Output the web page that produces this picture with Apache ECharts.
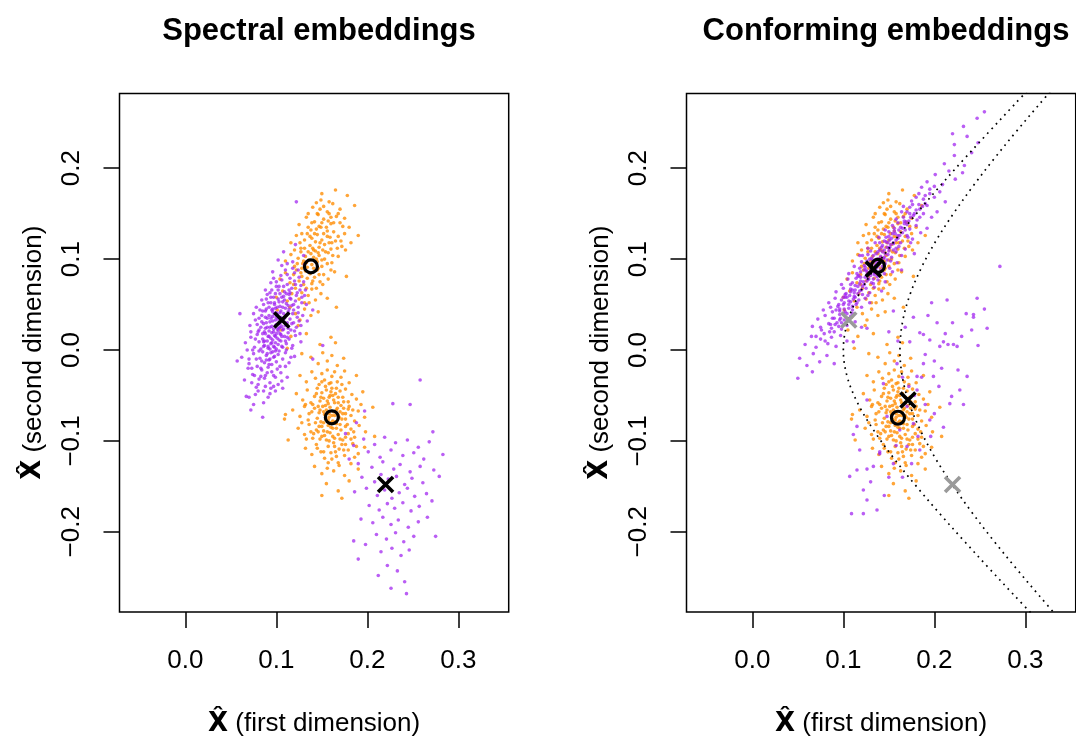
<!DOCTYPE html>
<html><head><meta charset="utf-8">
<script src="https://cdn.jsdelivr.net/npm/echarts@6/dist/echarts.min.js"></script>
<style>html,body{margin:0;padding:0;background:#fff}#c{width:1076px;height:738px}</style>
</head><body><div id="c"></div>
<script>
const titles = ['Spectral embeddings', 'Conforming embeddings'];
const xAxisTitle = '(first dimension)';
const yAxisTitle = '(second dimension)';
const xTicks = [0, 0.1, 0.2, 0.3];
const yTicks = [-0.2, -0.1, 0, 0.1, 0.2];

// left panel: purple group, upper cluster
const leftPurpleUpper = [
[.072,-.066],[.085,-.074],
[.070,-.052],[.080,-.045],[.086,-.058],[.093,-.048],[.078,-.041],
[.065,-.033],[.074,-.027],[.080,-.038],[.084,-.022],[.087,-.031],[.090,-.025],[.093,-.036],[.097,-.028],[.101,-.021],[.083,-.029],[.106,-.034],[.088,-.040],
[.062,-.008],[.070,-.015],[.075,-.004],[.079,-.018],[.082,-.009],[.085,-.002],[.087,-.014],[.089,-.006],[.091,-.019],[.092,-.011],[.094,-.003],[.095,-.016],[.097,-.008],[.099,-.001],[.100,-.013],[.102,-.005],[.104,-.018],[.107,-.010],[.110,-.003],[.114,-.014],[.120,-.007],[.084,-.012],
[.066,.008],[.072,.014],[.076,.003],[.079,.017],[.081,.009],[.083,.001],[.085,.012],[.087,.005],[.088,.018],[.090,.010],[.091,.002],[.092,.015],[.094,.007],[.095,.019],[.096,.011],[.097,.004],[.098,.016],[.099,.008],[.100,.001],[.101,.013],[.102,.006],[.104,.018],[.105,.010],[.107,.003],[.109,.015],[.111,.007],[.114,.012],[.117,.002],[.121,.016],[.127,.009],
[.071,.027],[.077,.033],[.081,.022],[.084,.038],[.086,.029],[.088,.024],[.090,.035],[.092,.021],[.093,.031],[.095,.026],[.096,.037],[.097,.023],[.099,.033],[.100,.028],[.101,.039],[.102,.021],[.103,.030],[.104,.025],[.105,.036],[.107,.022],[.108,.032],[.110,.027],[.111,.038],[.113,.024],[.115,.034],[.117,.029],[.120,.021],[.123,.036],[.127,.027],[.134,.032],
[.078,.047],[.084,.055],[.088,.043],[.091,.052],[.094,.058],[.096,.045],[.098,.050],[.100,.041],[.102,.056],[.104,.048],[.105,.043],[.107,.053],[.108,.059],[.110,.046],[.111,.051],[.113,.042],[.115,.057],[.117,.049],[.119,.044],[.121,.054],[.124,.047],[.128,.058],[.133,.050],[.140,.044],
[.088,.066],[.094,.074],[.099,.062],[.103,.070],[.106,.077],[.109,.064],[.112,.072],[.114,.061],[.117,.068],[.120,.076],[.123,.063],[.127,.071],[.132,.066],[.097,.079],
[.096,.086],[.106,.093],[.112,.083],[.118,.097],[.124,.088],[.131,.094],[.102,.099],
[.108,.108],[.121,.116],[.130,.104],
[.057,-.012],[.067,-.051],[.122,.163],[.151,.005],[.060,.040],[.140,-.010],[.075,-.060],
[.091,.004],[.094,.013],[.097,.020],[.099,.027],[.102,.034],[.104,.041],[.093,.025],[.096,.032],[.100,.018],[.103,.011],[.106,.026],[.108,.040],[.089,.030],[.092,.038],[.095,.044],[.098,.003],[.101,.023],[.105,.017],[.109,.035],[.087,.020],[.090,-.004],[.093,-.010],[.096,-.002],[.086,.009],[.112,.030],[.107,.047],[.098,.052],[.114,.045],
[.083,-.020],[.088,-.028],[.092,-.016],[.095,-.024],[.099,-.030],[.078,-.010],[.081,-.001],[.086,.004],[.089,-.011],[.093,.001],[.098,-.007],[.103,-.001],[.106,.004],[.110,.010],[.113,.019],[.108,.023],[.104,.029],[.100,.036],[.096,.042],[.092,.047],[.088,.036],[.084,.031],[.080,.020],[.077,.012],[.074,.000],[.082,.044],[.086,.050],[.090,.061],[.095,.066],[.100,.070],[.104,.062],[.109,.055],[.115,.063],[.118,.040],[.116,.022],[.112,.014],[.119,.030],[.124,.041],[.126,.018],[.129,.038],[.069,-.020],[.073,-.036],[.077,-.049],[.094,-.042],[.099,-.045],[.105,-.025],[.110,-.018],[.089,.045],[.085,.018],[.111,.000],
[.100,.075],[.105,.082],[.110,.088],[.115,.079],[.120,.085],[.125,.080],[.112,.095],[.118,.090],[.108,.070],[.114,.066],[.121,.072],[.126,.066],[.130,.075],[.116,.056],[.122,.060],[.128,.052],[.131,.060],[.093,.063],[.097,.058],[.102,.066],[.106,.058],[.111,.062],[.103,.053],[.099,.046],[.094,.052],[.089,.056],[.085,.043],[.081,.035],[.079,.028],[.075,.040],[.072,.020],[.068,.000],[.070,-.010],[.073,-.020],[.076,-.028],[.081,-.032],[.086,-.045],[.091,-.052],[.097,-.040],[.102,-.038],[.107,-.042],[.112,-.030],[.116,-.008],[.118,.005],[.122,.025],[.125,.032],[.119,.050],[.113,.049],[.107,.034],[.103,.024],[.099,.015],[.095,.008],[.091,.015],[.087,.010],[.083,.025],[.090,.025],[.094,.035],[.098,.040],[.101,.047],[.106,.015]
];

// left panel: purple group, lower cluster
const leftPurpleLower = [
[.196,-.098],[.208,-.104],[.219,-.096],[.231,-.102],[.244,-.099],[.256,-.107],[.268,-.101],[.201,-.112],[.214,-.118],[.226,-.110],[.239,-.116],[.251,-.113],[.262,-.120],[.190,-.125],[.205,-.129],[.217,-.123],[.229,-.131],[.236,-.126],[.247,-.134],[.258,-.128],[.273,-.132],[.194,-.140],[.208,-.145],[.215,-.137],[.223,-.142],[.232,-.139],[.241,-.148],[.249,-.141],[.261,-.146],[.279,-.139],[.186,-.156],[.199,-.152],[.211,-.160],[.219,-.154],[.227,-.163],[.235,-.157],[.244,-.152],[.252,-.161],[.265,-.158],[.202,-.171],[.213,-.176],[.222,-.169],[.230,-.174],[.239,-.168],[.248,-.177],[.257,-.172],[.271,-.166],[.193,-.186],[.206,-.190],[.217,-.184],[.226,-.192],[.234,-.187],[.245,-.195],[.256,-.189],[.210,-.203],[.221,-.208],[.231,-.201],[.240,-.211],[.251,-.205],[.198,-.214],[.215,-.222],[.227,-.218],[.237,-.226],[.246,-.220],[.222,-.237],[.233,-.243],[.212,-.248],[.241,-.255],[.226,-.262],[.243,-.268],[.180,-.120],[.185,-.105],[.176,-.092],[.188,-.080],[.197,-.067],[.258,-.033],[.228,-.059],[.247,-.060],[.272,-.090],[.283,-.115],[.266,-.184],[.275,-.205],[.185,-.210],[.190,-.230]
];

// orange group, upper cluster (same in both panels)
const orangeUpper = [
[.150,.172],[.165,.176],
[.140,.157],[.149,.165],[.156,.152],[.162,.161],[.170,.155],
[.125,.138],[.133,.146],[.138,.132],[.142,.141],[.146,.149],[.149,.135],[.152,.144],[.156,.131],[.160,.139],[.166,.147],[.173,.136],
[.116,.118],[.122,.126],[.127,.112],[.131,.121],[.134,.128],[.137,.115],[.139,.123],[.141,.110],[.143,.119],[.145,.127],[.147,.113],[.150,.121],[.153,.116],[.156,.125],[.160,.111],[.165,.120],[.172,.114],
[.110,.098],[.116,.105],[.120,.092],[.124,.101],[.127,.108],[.129,.095],[.132,.103],[.134,.091],[.136,.099],[.138,.106],[.139,.094],[.141,.102],[.143,.109],[.145,.097],[.147,.104],[.150,.092],[.153,.100],[.157,.107],[.161,.096],[.168,.103],
[.104,.078],[.110,.085],[.115,.074],[.119,.083],[.122,.088],[.125,.076],[.128,.081],[.130,.072],[.132,.087],[.134,.079],[.137,.084],[.139,.073],[.142,.080],[.145,.088],[.148,.075],[.152,.083],[.157,.078],[.164,.086],
[.100,.058],[.107,.065],[.112,.054],[.117,.062],[.121,.068],[.125,.056],[.128,.063],[.131,.052],[.135,.060],[.139,.067],[.143,.055],[.149,.062],[.156,.057],
[.101,.044],[.109,.036],[.115,.047],[.121,.040],[.126,.033],[.131,.045],[.138,.038],[.146,.042],
[.105,.022],[.116,.015],[.124,.027],[.133,.018],
[.112,.002],[.128,-.004],
[.186,.159],[.190,.126],[.177,.081],[.166,.047],[.178,.170],
[.140,.112],[.144,.100],[.148,.118],[.135,.108],[.151,.110],[.142,.128],[.155,.135],[.146,.090],[.130,.098],[.137,.125],[.152,.128],[.158,.118],
[.128,.090],[.133,.096],[.141,.090],[.146,.107],[.150,.099],[.154,.108],[.159,.124],[.163,.130],[.147,.136],[.139,.140],[.131,.112],[.126,.118],[.123,.095],[.119,.072],[.133,.068],[.140,.076],[.147,.083],[.156,.095],[.162,.104],[.168,.125],[.170,.140],[.158,.150],[.148,.155],[.135,.135],[.127,.085],[.136,.052],[.144,.068],[.151,.072],[.160,.088],[.175,.128],
[.145,.150],[.152,.158],[.160,.146],[.168,.150],[.175,.145],[.163,.140],[.157,.142],[.150,.140],[.144,.133],[.161,.118],[.167,.112],[.171,.120],[.176,.110],[.180,.135],[.182,.118],[.158,.163],[.144,.162],[.135,.150],[.128,.128],[.120,.110]
];

// orange group, lower cluster (same in both panels)
const orangeLower = [
[.148,.006],[.160,.014],
[.138,-.008],[.146,-.015],[.151,-.003],[.156,-.012],[.161,-.006],[.167,-.017],[.174,-.009],
[.126,-.028],[.133,-.035],[.139,-.024],[.143,-.031],[.147,-.038],[.150,-.026],[.153,-.033],[.156,-.022],[.158,-.037],[.161,-.029],[.164,-.024],[.167,-.035],[.171,-.030],[.175,-.023],[.180,-.036],[.188,-.028],
[.122,-.048],[.129,-.055],[.134,-.044],[.138,-.058],[.142,-.051],[.145,-.042],[.148,-.056],[.150,-.047],[.152,-.053],[.155,-.044],[.157,-.059],[.159,-.050],[.161,-.042],[.163,-.055],[.165,-.048],[.168,-.058],[.170,-.045],[.173,-.052],[.176,-.043],[.179,-.057],[.183,-.049],[.188,-.054],[.195,-.046],[.132,-.060],
[.118,-.066],[.126,-.073],[.131,-.062],[.135,-.077],[.139,-.068],[.142,-.064],[.145,-.075],[.147,-.069],[.149,-.079],[.151,-.062],[.153,-.071],[.155,-.066],[.157,-.077],[.159,-.063],[.161,-.072],[.163,-.068],[.165,-.079],[.167,-.064],[.169,-.074],[.171,-.061],[.173,-.070],[.176,-.076],[.179,-.065],[.182,-.072],[.186,-.078],[.190,-.067],[.197,-.074],[.110,-.071],
[.124,-.086],[.131,-.093],[.136,-.082],[.140,-.097],[.144,-.088],[.147,-.084],[.150,-.095],[.152,-.089],[.155,-.099],[.157,-.083],[.159,-.091],[.162,-.086],[.164,-.097],[.166,-.081],[.168,-.093],[.171,-.088],[.173,-.099],[.176,-.084],[.179,-.092],[.182,-.087],[.186,-.096],[.191,-.083],[.198,-.090],[.138,-.090],
[.132,-.108],[.139,-.115],[.144,-.104],[.149,-.112],[.153,-.119],[.157,-.106],[.160,-.113],[.163,-.102],[.166,-.117],[.169,-.109],[.172,-.104],[.175,-.116],[.179,-.110],[.184,-.103],[.190,-.114],[.197,-.107],
[.142,-.128],[.150,-.136],[.157,-.124],[.163,-.133],[.169,-.127],[.175,-.138],[.182,-.125],[.190,-.131],
[.155,-.147],[.168,-.155],[.180,-.144],[.172,-.163],
[.109,-.076],[.113,-.099],[.206,-.063],[.208,-.095],[.150,-.160],[.165,.008],
[.154,-.061],[.158,-.070],[.162,-.078],[.166,-.066],[.160,-.085],[.152,-.080],[.170,-.082],[.164,-.058],[.156,-.090],[.168,-.072],[.148,-.066],[.174,-.064],[.158,-.052],[.162,-.095],[.146,-.090],[.176,-.096],
[.150,-.035],[.154,-.040],[.160,-.036],[.166,-.042],[.172,-.038],[.144,-.048],[.149,-.052],[.156,-.056],[.162,-.050],[.168,-.052],[.174,-.057],[.180,-.062],[.140,-.060],[.146,-.062],[.152,-.068],[.158,-.074],[.164,-.072],[.170,-.068],[.176,-.070],[.184,-.066],[.136,-.070],[.143,-.080],[.150,-.084],[.154,-.076],[.160,-.080],[.166,-.086],[.172,-.076],[.178,-.082],[.185,-.090],[.141,-.092],[.148,-.098],[.153,-.094],[.158,-.100],[.164,-.106],[.170,-.098],[.176,-.104],[.182,-.098],[.145,-.108],[.152,-.112],[.161,-.120],[.168,-.124],[.174,-.110],[.186,-.118],[.156,-.130],[.165,-.112],[.128,-.080],[.133,-.098],[.193,-.060],[.188,-.106],[.160,-.046]
];

// right panel: purple group, upper cluster
const rightPurpleUpper = [
[.050,-.031],[.066,-.024],
[.052,-.009],[.060,-.017],[.067,-.004],[.074,-.013],[.082,-.006],[.090,-.015],
[.058,.006],[.065,.015],[.070,.003],[.075,.012],[.079,.018],[.083,.007],[.087,.014],[.092,.004],[.097,.016],[.104,.010],
[.066,.026],[.072,.034],[.076,.022],[.080,.038],[.084,.029],[.087,.024],[.090,.035],[.093,.030],[.096,.039],[.098,.023],[.101,.033],[.104,.027],[.108,.037],[.113,.031],[.120,.025],
[.078,.044],[.084,.052],[.088,.042],[.091,.057],[.094,.048],[.096,.043],[.098,.055],[.100,.050],[.102,.042],[.104,.058],[.106,.046],[.108,.053],[.110,.044],[.112,.059],[.114,.050],[.117,.055],[.120,.047],[.124,.057],[.129,.052],[.086,.047],
[.092,.064],[.098,.072],[.102,.061],[.105,.078],[.108,.067],[.110,.074],[.112,.063],[.114,.079],[.116,.070],[.118,.065],[.119,.076],[.121,.061],[.123,.072],[.125,.068],[.127,.078],[.129,.063],[.131,.074],[.134,.069],[.138,.077],[.142,.065],[.100,.068],[.146,.075],
[.106,.084],[.112,.092],[.116,.081],[.120,.097],[.123,.088],[.126,.083],[.128,.095],[.130,.089],[.132,.099],[.134,.085],[.135,.093],[.137,.081],[.139,.097],[.141,.088],[.143,.092],[.145,.084],[.148,.099],[.151,.090],[.154,.086],[.159,.096],[.118,.090],[.164,.088],
[.121,.104],[.127,.112],[.131,.101],[.135,.118],[.138,.108],[.141,.103],[.143,.115],[.145,.110],[.147,.119],[.149,.105],[.151,.113],[.153,.102],[.155,.117],[.158,.108],[.161,.114],[.164,.104],[.168,.111],[.174,.118],[.130,.109],[.178,.106],
[.139,.124],[.146,.132],[.151,.121],[.154,.137],[.157,.128],[.160,.123],[.163,.135],[.165,.129],[.167,.139],[.170,.126],[.173,.133],[.176,.122],[.180,.137],[.185,.129],[.150,.130],[.192,.134],
[.158,.144],[.164,.152],[.169,.141],[.173,.157],[.177,.148],[.181,.143],[.184,.155],[.188,.150],[.192,.159],[.197,.146],[.166,.158],[.203,.152],
[.175,.164],[.183,.172],[.190,.161],[.195,.177],[.200,.168],[.206,.174],[.212,.163],[.186,.179],
[.192,.185],[.201,.193],[.209,.182],[.216,.197],[.223,.188],[.231,.195],
[.211,.205],[.222,.214],[.233,.203],[.241,.217],
[.222,.226],[.236,.235],[.248,.228],
[.232,.246],[.247,.255],[.255,.262],[.220,.238],
[.110,.066],[.117,.082],[.124,.091],[.129,.100],[.136,.106],[.142,.113],[.147,.124],[.122,.075],[.126,.086],[.133,.078],[.138,.092],[.144,.101],[.150,.109],[.107,.060],[.113,.071],[.119,.086],[.131,.095],[.140,.118],[.153,.123],[.101,.052],[.096,.045],[.127,.105],[.118,.104],[.135,.088],[.156,.131],
[.080,.010],[.090,.020],[.086,.028],[.095,.026],[.100,.040],[.092,.044],[.110,.048],[.103,.062],[.113,.058],[.120,.066],[.108,.072],[.124,.080],[.115,.084],[.129,.085],[.136,.096],[.126,.098],[.142,.098],[.133,.104],[.146,.106],[.140,.110],[.152,.116],[.145,.120],[.158,.121],[.150,.125],[.162,.126],[.156,.134],[.168,.132],[.160,.140],[.172,.142],[.166,.146],[.178,.150],[.170,.152],[.183,.160],[.176,.160],[.188,.166],[.180,.168],[.195,.172],[.100,.058],[.106,.054],[.118,.073],[.128,.078],[.134,.083],[.139,.100],[.123,.093],[.148,.113],[.155,.110],[.097,.035],[.088,.035],[.075,.025],[.070,.015],
[.085,.020],[.091,.028],[.096,.033],[.101,.045],[.106,.050],[.111,.056],[.116,.062],[.121,.070],[.126,.076],[.130,.082],[.136,.090],[.140,.096],[.145,.102],[.150,.112],[.155,.118],[.160,.126],[.165,.134],[.170,.138],[.174,.146],[.180,.154],[.095,.050],[.102,.058],[.108,.064],[.113,.066],[.119,.080],[.125,.088],[.131,.088],[.137,.100],[.143,.108],[.149,.118],[.154,.128],[.161,.132],[.167,.142],[.173,.150],[.098,.030],[.104,.040],[.110,.040],[.115,.052],[.127,.060],[.133,.073],[.139,.082],[.146,.095],[.152,.098],[.158,.112],[.163,.118],[.171,.124],[.184,.146],[.187,.158],[.190,.170],[.200,.180]
];

// right panel: purple group, lower cluster
const rightPurpleLower = [
[.173,.009],[.184,.019],[.195,.011],[.206,.004],[.215,.006],[.225,.004],[.203,.030],[.197,.052],[.214,.055],[.247,.057],[.243,.039],[.241,.022],[.226,-.022],[.219,-.051],[.199,-.029],[.188,-.015],[.181,-.044],[.195,-.077],[.184,-.110],[.170,-.106],[.155,-.125],[.140,-.114],[.133,-.128],[.115,-.132],[.107,-.139],[.122,-.154],[.126,-.165],[.109,-.180],[.137,-.176],[.115,-.084],[.126,-.055],[.144,-.037],[.159,-.015],[.170,-.062],[.162,-.088],[.177,-.081],[.148,-.073],[.181,-.029],
[.188,.017],[.210,.009],[.221,.006],[.236,-.029],[.228,-.044],[.217,-.059],[.177,.036],[.155,.043],[.126,.024],[.111,.009],[.272,.092],[.243,.036],[.258,.024],[.140,-.112],[.126,-.131],[.122,-.180],[.111,-.093],
[.190,-.005],[.200,-.012],[.208,-.020],[.212,.018],[.193,.038],[.186,-.030],[.205,-.040],[.230,.015],[.235,.040],[.220,.030],[.178,-.050],[.190,-.060],[.200,-.070],[.210,-.085],[.182,-.095],[.172,-.040],[.165,-.030],[.232,-.060],[.248,.005],[.255,.045],[.196,-.095],[.158,-.105],[.150,-.140],[.145,-.160],[.130,-.145],[.118,-.110],[.165,-.140],[.175,-.125],[.160,.010],[.168,.025],[.150,.020]
];

// cluster centres
const leftCircles = [[.138,.092],[.161,-.074]];
const leftCrosses = [[.106,.033],[.220,-.148]];
const rightCircles = [[.138,.0925],[.160,-.0745]];
const rightCrosses = [[.133,.089],[.171,-.055]];
const rightOldCrosses = [[.106,.033],[.220,-.148]];

// dotted orbit curves (right panel)
const curveInner = [
[.3162,.30],[.2879,.27],[.2600,.24],[.2326,.21],[.2059,.18],[.1803,.15],[.1562,.12],[.1345,.09],[.1166,.06],[.1044,.03],[.1000,0],
[.1044,-.03],[.1166,-.06],[.1345,-.09],[.1562,-.12],[.1803,-.15],[.2059,-.18],[.2326,-.21],[.2600,-.24],[.2879,-.27],[.3162,-.30]
];
const curveOuter = [
[.3410,.30],[.3150,.27],[.2897,.24],[.2653,.21],[.2423,.18],[.2209,.15],[.2017,.12],[.1855,.09],[.1729,.06],[.1649,.03],[.1622,0],
[.1649,-.03],[.1729,-.06],[.1855,-.09],[.2017,-.12],[.2209,-.15],[.2423,-.18],[.2653,-.21],[.2897,-.24],[.3150,-.27],[.3410,-.30]
];

const PURPLE = 'rgba(160,32,240,0.72)';
const ORANGE = 'rgba(255,140,0,0.78)';
const FONT = 'Liberation Sans';
const XPATH = 'path://M0,0L10,10M10,0L0,10';

const fmt = v => (v < 0 ? '\u2212' : '') + Math.abs(v).toFixed(1);
const gridLefts = [119.5, 686.5];
const gridCenters = [314, 881];

function xAxisFor(i) {
  return {
    gridIndex: i, type: 'value', min: -0.0723, max: 0.3553,
    axisLine: {show: false, onZero: false}, splitLine: {show: false},
    axisTick: {show: true, inside: false, length: 16, customValues: xTicks, lineStyle: {color: '#000', width: 1.5}},
    axisLabel: {customValues: xTicks, formatter: fmt, fontSize: 26, fontFamily: FONT, color: '#000', margin: 36},
    name: '{h|X\u0302} ' + xAxisTitle, nameLocation: 'middle', nameGap: 98,
    nameTextStyle: {fontSize: 26, fontFamily: FONT, color: '#000', lineHeight: 28,
      rich: {h: {fontSize: 26, fontWeight: 'bold', fontFamily: 'DejaVu Sans', color: '#000', lineHeight: 28}}}
  };
}
function yAxisFor(i) {
  return {
    gridIndex: i, type: 'value', min: -0.2882, max: 0.2822,
    axisLine: {show: false, onZero: false}, splitLine: {show: false},
    axisTick: {show: true, inside: false, length: 16, customValues: yTicks, lineStyle: {color: '#000', width: 1.5}},
    axisLabel: {customValues: yTicks, formatter: fmt, rotate: 90, fontSize: 26, fontFamily: FONT, color: '#000', margin: 35},
    name: '{h|X\u0302} ' + yAxisTitle, nameLocation: 'middle', nameGap: 72,
    nameTextStyle: {fontSize: 26, fontFamily: FONT, color: '#000', lineHeight: 28,
      rich: {h: {fontSize: 26, fontWeight: 'bold', fontFamily: 'DejaVu Sans', color: '#000', lineHeight: 28}}}
  };
}
function dots(i, data, color, z) {
  return {type: 'scatter', xAxisIndex: i, yAxisIndex: i, data: data, symbol: 'circle', symbolSize: 3.6,
    itemStyle: {color: color, opacity: 1}, silent: true, z: z};
}
function circles(i, data) {
  return {type: 'scatter', xAxisIndex: i, yAxisIndex: i, data: data, symbol: 'circle', symbolSize: 13,
    itemStyle: {color: 'rgba(0,0,0,0)', borderColor: '#000', borderWidth: 3.2, opacity: 1}, silent: true, z: 6};
}
function crosses(i, data, color, z) {
  return {type: 'scatter', xAxisIndex: i, yAxisIndex: i, data: data, symbol: XPATH, symbolSize: 15,
    itemStyle: {color: 'rgba(0,0,0,0)', borderColor: color, borderWidth: 3.6, opacity: 1}, silent: true, z: z};
}
function curve(data) {
  return {type: 'line', xAxisIndex: 1, yAxisIndex: 1, data: data, showSymbol: false, smooth: 0.35,
    lineStyle: {color: '#000', width: 1.7, type: [1.7, 4.6]}, silent: true, z: 4, clip: true};
}

const chart = echarts.init(document.getElementById('c'), null, {renderer: 'canvas'});
chart.setOption({
  animation: false,
  backgroundColor: '#fff',
  title: titles.map((t, i) => ({
    text: t, left: gridCenters[i], top: 11, textAlign: 'center',
    textStyle: {fontSize: 31, fontWeight: 'bold', fontFamily: FONT, color: '#000'}
  })),
  grid: gridLefts.map(l => ({left: l, top: 93.5, width: 389.2, height: 518.5, show: true,
    borderColor: '#000', borderWidth: 1.5, backgroundColor: 'rgba(0,0,0,0)', containLabel: false, outerBoundsMode: 'none'})),
  xAxis: [xAxisFor(0), xAxisFor(1)],
  yAxis: [yAxisFor(0), yAxisFor(1)],
  series: [
    dots(0, orangeUpper, ORANGE, 2),
    dots(0, orangeLower, ORANGE, 2),
    dots(0, leftPurpleUpper, PURPLE, 3),
    dots(0, leftPurpleLower, PURPLE, 3),
    circles(0, leftCircles),
    crosses(0, leftCrosses, '#000', 7),
    dots(1, orangeUpper, ORANGE, 2),
    dots(1, orangeLower, ORANGE, 2),
    dots(1, rightPurpleUpper, PURPLE, 3),
    dots(1, rightPurpleLower, PURPLE, 3),
    curve(curveInner),
    curve(curveOuter),
    crosses(1, rightOldCrosses, '#9a9a9a', 5),
    circles(1, rightCircles),
    crosses(1, rightCrosses, '#000', 7)
  ]
});
</script></body></html>
